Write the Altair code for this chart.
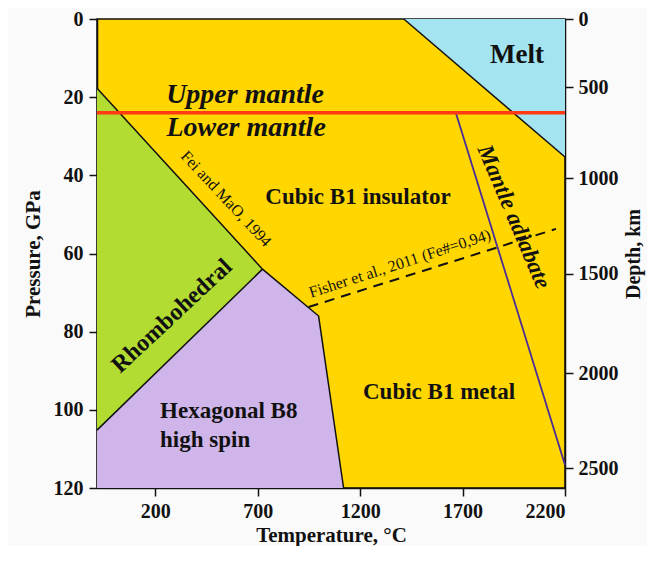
import altair as alt
import pandas as pd

FONT = "Liberation Serif"

# Axis ranges and ticks
T_DOMAIN = [-85, 2200]
P_DOMAIN = [0, 120]
temp_ticks = [200, 700, 1200, 1700, 2200]
pressure_ticks = [0, 20, 40, 60, 80, 100, 120]
depth_labels = [0, 500, 1000, 1500, 2000, 2500]
depth_at_pressure = [0, 17.4, 40.7, 65.2, 90.6, 114.9]

# Phase fields (temperature, pressure)
rhombo_T = [-85, 723]
rhombo_top = [17.7, 64.0]
rhombo_bottom = [105.2, 64.0]

hexa_T = [-85, 723, 997, 1119]
hexa_top = [105.2, 64.0, 76.0, 120.0]
hexa_bottom = [120.0, 120.0, 120.0, 120.0]

melt_T = [1413, 2200]
melt_top = [0.0, 0.0]
melt_bottom = [0.0, 35.3]

# Boundary lines
fei_T = [-85, 723, 997, 1119]
fei_P = [17.7, 64.0, 76.0, 120.0]
rh_hex_T = [-85, 723]
rh_hex_P = [105.2, 64.0]
melt_line_T = [1413, 2200]
melt_line_P = [0.0, 35.3]
adiabat_T = [1667, 2200]
adiabat_P = [24.0, 114.1]
fisher_T = [948, 2156]
fisher_P = [73.7, 53.7]
transition_P = [24.0]

# Labels
lab_text = ["Melt", "Cubic B1 insulator", "Cubic B1 metal", "Rhombohedral",
            "Hexagonal B8", "high spin",
            "Upper mantle", "Lower mantle", "Mantle adiabate",
            "Fei and MaO, 1994", "Fisher et al., 2011 (Fe#=0,94)"]
lab_T = [1966, 1189, 1585, 281, 223, 223, 638, 643, 1950, 545, 1394]
lab_P = [9.2, 45.5, 95.4, 76.0, 100.3, 107.7, 19.4, 27.9, 50.6, 46.0, 62.6]
lab_angle = [0, 0, 0, 317, 0, 0, 0, 0, 67, 47, 342]
lab_size = [27, 23, 23, 24, 23, 23, 28, 28, 23, 16, 16]
lab_kind = ["b", "b", "b", "b", "bl", "bl", "bi", "bi", "bi", "r", "r"]

x_enc = alt.X("T:Q", scale=alt.Scale(domain=T_DOMAIN, nice=False, zero=False),
              axis=alt.Axis(values=temp_ticks, format="d", title="Temperature, °C",
                            tickSize=8, labelPadding=5, titlePadding=3))
y_enc = alt.Y("P:Q", scale=alt.Scale(domain=P_DOMAIN, nice=False, zero=False, reverse=True),
              axis=alt.Axis(values=pressure_ticks, title="Pressure, GPa",
                            tickSize=8, labelPadding=6, titlePadding=10))


def area(Ts, tops, bottoms, color):
    df = pd.DataFrame({"T": Ts, "P": tops, "P2": bottoms})
    return alt.Chart(df).mark_area(color=color, opacity=1, interpolate="linear").encode(
        x=x_enc, y=y_enc, y2="P2:Q")


def line(Ts, Ps, color, width, dash=None):
    df = pd.DataFrame({"T": Ts, "P": Ps, "o": list(range(len(Ts)))})
    kw = dict(color=color, strokeWidth=width)
    if dash:
        kw["strokeDash"] = dash
    return alt.Chart(df).mark_line(**kw).encode(x=x_enc, y=y_enc, order="o:Q")


labels = pd.DataFrame({"text": lab_text, "T": lab_T, "P": lab_P, "angle": lab_angle,
                       "size": lab_size, "kind": lab_kind})


def texts(kind, weight, style, align="center"):
    df = labels[labels["kind"] == kind]
    return alt.Chart(df).mark_text(font=FONT, fontWeight=weight, fontStyle=style,
                                   align=align, baseline="middle", color="#111111").encode(
        x=x_enc, y=y_enc, text="text:N",
        angle=alt.Angle("angle:Q", scale=None),
        size=alt.Size("size:Q", scale=None))


base = alt.layer(
    area(rhombo_T, rhombo_top, rhombo_bottom, "#B2DC32"),
    area(hexa_T, hexa_top, hexa_bottom, "#CFB5EA"),
    area(melt_T, melt_top, melt_bottom, "#A3E4F0"),
    line(fei_T, fei_P, "#111111", 1.5),
    line(rh_hex_T, rh_hex_P, "#111111", 1.5),
    line(melt_line_T, melt_line_P, "#111111", 1.5),
    line(adiabat_T, adiabat_P, "#4B2D96", 1.8),
    line(fisher_T, fisher_P, "#111111", 2, dash=[10, 7]),
    texts("b", "bold", "normal"),
    texts("bl", "bold", "normal", align="left"),
    texts("bi", "bold", "italic"),
    texts("r", "normal", "normal"),
)

label_expr = "[" + ",".join("'%d'" % d for d in depth_labels) + "][indexof([" + \
    ",".join(str(p) for p in depth_at_pressure) + "], datum.value)]"

red = alt.Chart(pd.DataFrame({"P": transition_P})).mark_rule(
    color="#FF3A14", strokeWidth=3.5).encode(
    y=alt.Y("P:Q", scale=alt.Scale(domain=P_DOMAIN, nice=False, zero=False, reverse=True),
            axis=alt.Axis(orient="right", values=depth_at_pressure, labelExpr=label_expr,
                          title="Depth, km", titleAngle=270, titleBaseline="top",
                          titleFontSize=20,
                          tickSize=8, labelPadding=5, titlePadding=5)))

chart = alt.layer(base, red).resolve_scale(y="independent").properties(
    width=468, height=469,
    autosize=alt.AutoSizeParams(type="none"),
    padding={"left": 89, "top": 11, "right": 82, "bottom": 58},
    background="#FAFAFA",
).configure_view(
    stroke="#111111", strokeWidth=1.5, fill="#FFD600"
).configure_axis(
    labelFont=FONT, titleFont=FONT, labelFontSize=20, titleFontSize=21,
    labelFontWeight="bold", titleFontWeight="bold",
    labelColor="#111111", titleColor="#111111",
    domainColor="#111111", domainWidth=1.5, tickColor="#111111", tickWidth=1.5,
    grid=False,
)

chart.save("out.html", embed_options={"renderer": "svg", "actions": False})
